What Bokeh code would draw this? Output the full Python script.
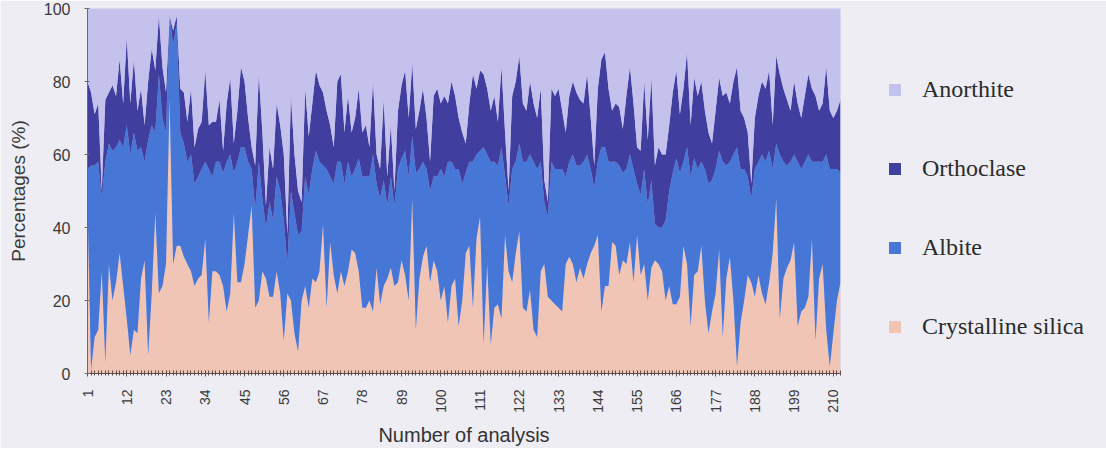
import math
from bokeh.plotting import figure
from bokeh.models import ColumnDataSource, Range1d, FixedTicker, Legend, LegendItem
from bokeh.embed import file_html
from bokeh.resources import INLINE

analysis = list(range(1, 213))

silica = [47, 1, 10, 12, 28, 3, 30, 20, 25, 33,
          24, 15, 5, 12, 11, 26, 31, 5, 22, 44,
          22, 24, 30, 75, 30, 35, 35, 32, 30, 28,
          24, 26, 27, 37, 14, 28, 28, 27, 24, 17,
          22, 44, 25, 25, 30, 38, 46, 18, 20, 28,
          26, 21, 21, 28, 22, 9, 22, 20, 11, 6,
          20, 24, 18, 26, 25, 28, 41, 18, 36, 27,
          22, 28, 24, 28, 34, 33, 28, 18, 18, 20,
          17, 29, 19, 24, 26, 29, 24, 25, 31, 27,
          20, 48, 12, 26, 32, 35, 25, 31, 28, 20,
          24, 14, 24, 26, 13, 20, 33, 35, 18, 37,
          43, 8, 30, 8, 18, 19, 15, 38, 28, 25,
          33, 39, 18, 17, 23, 12, 10, 28, 30, 21,
          20, 19, 18, 17, 30, 32, 30, 25, 29, 26,
          30, 33, 35, 38, 17, 24, 24, 36, 35, 27,
          31, 30, 36, 25, 38, 27, 30, 20, 29, 31,
          30, 28, 20, 24, 19, 19, 21, 35, 30, 13,
          27, 28, 35, 20, 11, 17, 22, 34, 10, 26,
          32, 20, 2, 14, 20, 27, 25, 21, 27, 22,
          19, 25, 33, 48, 15, 26, 29, 31, 36, 13,
          17, 18, 21, 37, 9, 26, 30, 12, 2, 11,
          20, 25]

albite = [9, 56, 47, 46, 20, 55, 33, 41, 37, 31,
          38, 53, 55, 54, 50, 36, 27, 59, 46, 22,
          60, 46, 36, 23, 60, 61, 31, 31, 28, 32,
          28, 28, 29, 21, 42, 26, 30, 31, 31, 41,
          38, 11, 33, 37, 32, 20, 10, 27, 38, 20,
          14, 26, 21, 26, 28, 33, 8, 30, 33, 32,
          19, 30, 31, 30, 36, 30, 16, 38, 18, 25,
          36, 30, 28, 30, 20, 23, 31, 36, 36, 34,
          43, 23, 29, 29, 20, 25, 22, 31, 28, 34,
          34, 17, 43, 30, 26, 21, 25, 23, 26, 36,
          30, 44, 34, 30, 43, 32, 22, 23, 40, 23,
          18, 54, 30, 50, 40, 38, 47, 16, 18, 31,
          25, 24, 40, 41, 37, 46, 46, 30, 17, 22,
          38, 37, 38, 39, 24, 26, 30, 32, 28, 32,
          30, 23, 16, 20, 45, 38, 34, 22, 23, 30,
          24, 26, 24, 31, 14, 22, 26, 26, 24, 10,
          10, 12, 22, 26, 36, 40, 34, 23, 32, 41,
          32, 28, 23, 36, 41, 36, 34, 27, 48, 31,
          26, 40, 60, 42, 36, 27, 23, 35, 31, 38,
          39, 36, 23, 15, 45, 32, 28, 27, 24, 45,
          39, 40, 39, 21, 49, 32, 28, 48, 54, 45,
          36, 30]

orthoclase = [24, 20, 14, 16, 2, 17, 14, 18, 14, 22,
              12, 24, 14, 20, 11, 16, 10, 16, 21, 17,
              16, 14, 11, 0, 4, 2, 12, 14, 11, 18,
              10, 13, 13, 25, 12, 15, 11, 17, 6, 16,
              21, 8, 14, 22, 18, 12, 6, 12, 24, 18,
              6, 15, 14, 20, 18, 18, 8, 26, 16, 12,
              8, 24, 16, 18, 22, 21, 20, 16, 14, 10,
              22, 24, 14, 18, 12, 14, 19, 12, 14, 8,
              20, 8, 8, 22, 8, 14, 4, 16, 20, 22,
              16, 20, 12, 16, 20, 14, 8, 22, 24, 18,
              22, 16, 22, 20, 14, 14, 8, 16, 24, 18,
              22, 20, 18, 14, 18, 12, 22, 12, 4, 20,
              22, 24, 16, 14, 20, 16, 14, 20, 6, 4,
              20, 20, 22, 16, 12, 18, 20, 20, 18, 16,
              22, 14, 6, 20, 24, 26, 20, 14, 16, 16,
              12, 20, 24, 18, 10, 12, 24, 18, 28, 16,
              22, 20, 18, 18, 22, 24, 16, 20, 26, 14,
              22, 20, 22, 16, 14, 10, 16, 20, 18, 20,
              16, 20, 22, 16, 14, 12, 4, 14, 18, 20,
              20, 22, 12, 24, 22, 20, 18, 14, 20, 16,
              14, 18, 22, 20, 18, 14, 16, 24, 16, 14,
              16, 20]

anorthite = [20, 23, 29, 26, 50, 25, 23, 21, 24, 14,
             26, 8, 26, 14, 28, 22, 32, 20, 11, 17,
             2, 16, 23, 2, 6, 2, 22, 23, 31, 22,
             38, 33, 31, 17, 32, 31, 31, 25, 39, 26,
             19, 37, 28, 16, 20, 30, 38, 43, 18, 34,
             54, 38, 44, 26, 32, 40, 62, 24, 40, 50,
             53, 22, 35, 26, 17, 21, 23, 28, 32, 38,
             20, 18, 34, 24, 34, 30, 22, 34, 32, 38,
             20, 40, 44, 25, 46, 32, 50, 28, 21, 17,
             30, 15, 33, 28, 22, 30, 42, 24, 22, 26,
             24, 26, 20, 24, 30, 34, 37, 26, 18, 22,
             17, 18, 22, 28, 24, 31, 16, 34, 50, 24,
             20, 13, 26, 28, 20, 26, 30, 22, 47, 53,
             22, 24, 22, 28, 34, 24, 20, 23, 25, 26,
             18, 30, 43, 22, 14, 12, 22, 28, 26, 27,
             33, 24, 16, 26, 38, 39, 20, 36, 19, 43,
             38, 40, 40, 32, 23, 17, 29, 22, 12, 32,
             19, 24, 20, 28, 34, 37, 28, 19, 24, 23,
             26, 20, 16, 28, 30, 34, 48, 30, 24, 20,
             22, 17, 32, 13, 18, 22, 25, 28, 20, 26,
             30, 24, 18, 22, 24, 28, 26, 16, 28, 30,
             28, 25]

x_ticks = [1, 12, 23, 34, 45, 56, 67, 78, 89, 100, 111, 122, 133, 144, 155,
           166, 177, 188, 199, 210]
y_ticks = [0, 20, 40, 60, 80, 100]
series_keys = ["silica", "albite", "orthoclase", "anorthite"]
series_names = ["Crystalline silica", "Albite", "Orthoclase", "Anorthite"]
colors = ["#f0c5b6", "#4676d6", "#403e9e", "#c4c1ec"]

PAGE = "#ededf3"

src = ColumnDataSource(dict(x=analysis, silica=silica, albite=albite,
                            orthoclase=orthoclase, anorthite=anorthite))

p = figure(frame_width=753, frame_height=365, output_backend="svg",
           toolbar_location=None,
           x_range=Range1d(1, 212), y_range=Range1d(0, 100),
           min_border_left=87, min_border_right=0, min_border_top=8,
           min_border_bottom=71)
p.border_fill_color = PAGE
p.background_fill_color = colors[3]
p.outline_line_color = None
p.xgrid.visible = False
p.ygrid.visible = False

renderers = p.varea_stack(stackers=series_keys, x="x", color=colors, source=src)

# axes
p.yaxis.ticker = FixedTicker(ticks=y_ticks)
p.yaxis.axis_label = "Percentages (%)"
p.yaxis.axis_label_text_font = "Liberation Sans"
p.yaxis.axis_label_text_font_style = "normal"
p.yaxis.axis_label_text_font_size = "19px"
p.yaxis.axis_label_text_color = "#3a3a3a"
p.yaxis.axis_label_standoff = 12
p.yaxis.major_label_text_font = "Liberation Sans"
p.yaxis.major_label_text_font_size = "16px"
p.yaxis.major_label_text_color = "#3a3a3a"
p.yaxis.major_label_standoff = 14
p.yaxis.axis_line_color = "#6a6a6a"
p.yaxis.major_tick_line_color = "#6a6a6a"
p.yaxis.major_tick_in = 2
p.yaxis.major_tick_out = 3
p.yaxis.minor_tick_line_color = None

p.xaxis.ticker = FixedTicker(ticks=x_ticks, minor_ticks=analysis)
p.xaxis.major_label_orientation = math.pi / 2
p.xaxis.axis_label = "Number of analysis"
p.xaxis.axis_label_text_font = "Liberation Sans"
p.xaxis.axis_label_text_font_style = "normal"
p.xaxis.axis_label_text_font_size = "20px"
p.xaxis.axis_label_text_color = "#333333"
p.xaxis.axis_label_standoff = 8
p.xaxis.major_label_text_font = "Liberation Sans"
p.xaxis.major_label_text_font_size = "14px"
p.xaxis.major_label_text_color = "#3a3a3a"
p.xaxis.major_label_standoff = 13
p.xaxis.axis_line_color = "#5e4c46"
p.xaxis.major_tick_line_color = "#5e4c46"
p.xaxis.minor_tick_line_color = "#5e4c46"
p.xaxis.major_tick_in = 3
p.xaxis.major_tick_out = 3
p.xaxis.minor_tick_in = 3
p.xaxis.minor_tick_out = 2

items = [LegendItem(label=n, renderers=[r]) for n, r in zip(series_names, renderers)]
items.reverse()
legend = Legend(items=items, location=(47, 33), orientation="vertical",
                background_fill_alpha=0, border_line_color=None,
                padding=0, margin=0, spacing=52, label_standoff=20,
                glyph_width=15, glyph_height=15, label_height=25,
                label_text_font="Liberation Serif", label_text_font_size="24px",
                label_text_color="#2b2b2b")
p.add_layout(legend, "right")

open("out.html", "w").write(file_html(p, INLINE))
